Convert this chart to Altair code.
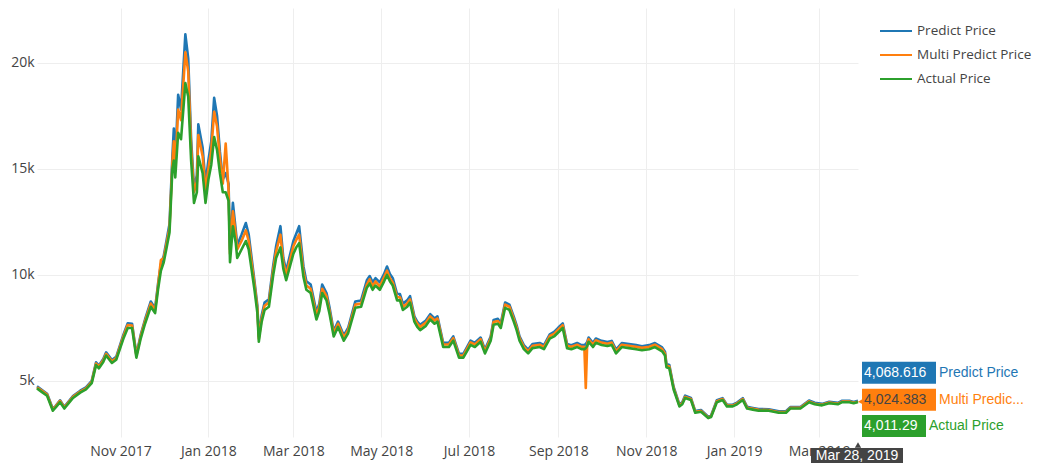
import altair as alt
import pandas as pd

dates = [
    "2017-09-04", "2017-09-07", "2017-09-11", "2017-09-15", "2017-09-17", "2017-09-20", "2017-09-23", "2017-09-29",
    "2017-10-04", "2017-10-08", "2017-10-12", "2017-10-15", "2017-10-17", "2017-10-20", "2017-10-22", "2017-10-26",
    "2017-10-29", "2017-11-03", "2017-11-06", "2017-11-09", "2017-11-12", "2017-11-15", "2017-11-18", "2017-11-22",
    "2017-11-25", "2017-11-27", "2017-11-29", "2017-12-01", "2017-12-03", "2017-12-05", "2017-12-07", "2017-12-08",
    "2017-12-09", "2017-12-11", "2017-12-13", "2017-12-16", "2017-12-18", "2017-12-20", "2017-12-22", "2017-12-24",
    "2017-12-25", "2017-12-28", "2017-12-30", "2018-01-01", "2018-01-03", "2018-01-05", "2018-01-07", "2018-01-09",
    "2018-01-11", "2018-01-13", "2018-01-15", "2018-01-16", "2018-01-18", "2018-01-20", "2018-01-21", "2018-01-24",
    "2018-01-27", "2018-01-29", "2018-02-02", "2018-02-04", "2018-02-05", "2018-02-07", "2018-02-09", "2018-02-12",
    "2018-02-15", "2018-02-17", "2018-02-20", "2018-02-22", "2018-02-24", "2018-03-01", "2018-03-03", "2018-03-05",
    "2018-03-08", "2018-03-10", "2018-03-13", "2018-03-17", "2018-03-19", "2018-03-21", "2018-03-24", "2018-03-26",
    "2018-03-29", "2018-04-01", "2018-04-05", "2018-04-08", "2018-04-13", "2018-04-17", "2018-04-21", "2018-04-23",
    "2018-04-25", "2018-04-27", "2018-04-30", "2018-05-03", "2018-05-05", "2018-05-07", "2018-05-09", "2018-05-12",
    "2018-05-14", "2018-05-16", "2018-05-19", "2018-05-21", "2018-05-24", "2018-05-26", "2018-05-28", "2018-06-01",
    "2018-06-04", "2018-06-07", "2018-06-09", "2018-06-13", "2018-06-17", "2018-06-20", "2018-06-24", "2018-06-27",
    "2018-07-02", "2018-07-05", "2018-07-09", "2018-07-12", "2018-07-16", "2018-07-18", "2018-07-21", "2018-07-23",
    "2018-07-26", "2018-07-29", "2018-08-01", "2018-08-03", "2018-08-05", "2018-08-08", "2018-08-11", "2018-08-14",
    "2018-08-19", "2018-08-22", "2018-08-26", "2018-08-29", "2018-09-01", "2018-09-04", "2018-09-07", "2018-09-10",
    "2018-09-14", "2018-09-17", "2018-09-19", "2018-09-20", "2018-09-21", "2018-09-22", "2018-09-25", "2018-09-27",
    "2018-10-01", "2018-10-05", "2018-10-08", "2018-10-11", "2018-10-15", "2018-10-20", "2018-10-25", "2018-10-29",
    "2018-11-03", "2018-11-07", "2018-11-12", "2018-11-14", "2018-11-15", "2018-11-17", "2018-11-20", "2018-11-24",
    "2018-11-26", "2018-11-28", "2018-12-02", "2018-12-05", "2018-12-09", "2018-12-14", "2018-12-16", "2018-12-20",
    "2018-12-24", "2018-12-27", "2018-12-31", "2019-01-03", "2019-01-07", "2019-01-10", "2019-01-14", "2019-01-18",
    "2019-01-25", "2019-02-01", "2019-02-06", "2019-02-09", "2019-02-16", "2019-02-22", "2019-02-26", "2019-03-03",
    "2019-03-08", "2019-03-14", "2019-03-17", "2019-03-22", "2019-03-25", "2019-03-28",
]

actual_price = [
    4650, 4500, 4300, 3600, 3750, 4000, 3700, 4200,
    4450, 4600, 4900, 5750, 5600, 5900, 6200, 5850,
    6000, 7000, 7500, 7500, 6100, 7000, 7700, 8500,
    8200, 9300, 10200, 10600, 11300, 12000, 15000, 15400,
    14600, 16700, 16400, 19050, 18400, 15400, 13400, 13900,
    15600, 14800, 13400, 14500, 15200, 16500, 15900, 14800,
    13900, 13900, 13500, 10600, 12300, 11500, 10800, 11200,
    11600, 11200, 9300, 8200, 6850, 7800, 8350, 8500,
    10000, 10800, 11300, 10300, 9750, 11000, 11300, 11500,
    9900, 9300, 9150, 7900, 8300, 9150, 8800, 8200,
    7100, 7550, 6900, 7250, 8450, 8500, 9400, 9600,
    9300, 9500, 9300, 9700, 10000, 9700, 9500, 8800,
    8800, 8350, 8500, 8700, 7800, 7550, 7400, 7600,
    7900, 7700, 7800, 6600, 6600, 6900, 6100, 6100,
    6700, 6600, 6850, 6300, 6900, 7650, 7700, 7500,
    8450, 8350, 7800, 7400, 6900, 6500, 6300, 6550,
    6600, 6500, 7000, 7100, 7300, 7500, 6550, 6500,
    6600, 6500, 6500, 6550, 6650, 6850, 6600, 6800,
    6700, 6650, 6700, 6300, 6600, 6550, 6500, 6450,
    6500, 6600, 6400, 6200, 5650, 5600, 4600, 3800,
    3900, 4200, 4100, 3500, 3550, 3250, 3300, 4000,
    4100, 3800, 3800, 3900, 4100, 3700, 3650, 3600,
    3600, 3500, 3500, 3700, 3700, 4000, 3900, 3850,
    3950, 3900, 4000, 4000, 3950, 4011.29,
]

predict_price = [
    4750, 4600, 4400, 3680, 3830, 4090, 3780, 4290,
    4540, 4700, 5010, 5880, 5730, 6040, 6350, 5990,
    6140, 7180, 7720, 7700, 6250, 7170, 7900, 8750,
    8420, 9560, 10500, 10900, 11650, 12400, 15600, 16900,
    15300, 18500, 17800, 21350, 20200, 16400, 14100, 14700,
    17100, 16000, 14300, 15400, 16300, 18350, 17500, 15800,
    14500, 14800, 14300, 11200, 13400, 12100, 11400, 11900,
    12450, 11900, 9700, 8550, 7100, 8100, 8700, 8850,
    10450, 11350, 12300, 10800, 10200, 11600, 11950, 12300,
    10400, 9700, 9550, 8250, 8650, 9550, 9150, 8500,
    7350, 7800, 7150, 7500, 8750, 8800, 9750, 9950,
    9650, 9850, 9650, 10050, 10400, 10050, 9850, 9100,
    9100, 8650, 8800, 9000, 8050, 7800, 7650, 7850,
    8150, 7950, 8050, 6800, 6800, 7100, 6280, 6280,
    6900, 6800, 7050, 6480, 7100, 7880, 7930, 7720,
    8700, 8600, 8030, 7620, 7100, 6690, 6480, 6740,
    6790, 6690, 7200, 7310, 7520, 7720, 6740, 6690,
    6790, 6690, 6690, 6740, 6840, 7050, 6790, 7000,
    6890, 6840, 6890, 6480, 6790, 6740, 6690, 6640,
    6690, 6790, 6580, 6380, 5800, 5750, 4720, 3900,
    4000, 4310, 4200, 3580, 3630, 3320, 3370, 4090,
    4190, 3880, 3880, 3980, 4190, 3780, 3730, 3680,
    3670, 3570, 3570, 3770, 3770, 4080, 3970, 3920,
    4020, 3970, 4070, 4070, 4010, 4068.616,
]

multi_predict_price = [
    4700, 4560, 4360, 3650, 3800, 4060, 3750, 4250,
    4500, 4650, 4960, 5820, 5680, 5980, 6280, 5930,
    6080, 7100, 7640, 7620, 6200, 7100, 7820, 8650,
    8350, 9450, 10700, 10800, 11500, 12200, 15300, 16300,
    15000, 17800, 17300, 20500, 19600, 16000, 13900, 14400,
    16600, 15600, 14000, 15000, 15900, 17700, 17000, 15500,
    14300, 16200, 14000, 11000, 13000, 11900, 11200, 11600,
    12100, 11600, 9550, 8400, 7000, 7950, 8550, 8700,
    10250, 11100, 11900, 10600, 10000, 11350, 11650, 11900,
    10150, 9500, 9350, 8100, 8500, 9350, 9000, 8350,
    7250, 7700, 7050, 7400, 8600, 8650, 9550, 9800,
    9450, 9700, 9450, 9900, 10200, 9850, 9650, 8950,
    8950, 8500, 8650, 8850, 7950, 7700, 7550, 7750,
    8050, 7850, 7950, 6720, 6720, 7020, 6200, 6200,
    6820, 6720, 6970, 6400, 7020, 7780, 7830, 7630,
    8600, 8500, 7930, 7530, 7020, 6610, 6400, 6660,
    6710, 6610, 7120, 7220, 7430, 7630, 6660, 6610,
    6710, 6610, 6610, 4670, 6760, 6970, 6710, 6920,
    6810, 6760, 6810, 6400, 6710, 6660, 6610, 6560,
    6610, 6710, 6500, 6300, 5730, 5680, 4660, 3850,
    3950, 4250, 4150, 3540, 3590, 3280, 3330, 4050,
    4150, 3840, 3840, 3940, 4150, 3740, 3690, 3640,
    3630, 3530, 3530, 3730, 3730, 4040, 3930, 3880,
    3980, 3930, 4030, 4030, 3970, 4024.383,
]

series_names = ["Predict Price", "Multi Predict Price", "Actual Price"]
series_colors = ["#1f77b4", "#ff7f0e", "#2ca02c"]
last_labels = ["4,068.616", "4,024.383", "4,011.29"]
short_names = ["Predict Price", "Multi Predic...", "Actual Price"]
hover_date_label = "Mar 28, 2019"

x_tick_values = [
    alt.DateTime(year=2017, month=11, date=1),
    alt.DateTime(year=2018, month=1, date=1),
    alt.DateTime(year=2018, month=3, date=1),
    alt.DateTime(year=2018, month=5, date=1),
    alt.DateTime(year=2018, month=7, date=1),
    alt.DateTime(year=2018, month=9, date=1),
    alt.DateTime(year=2018, month=11, date=1),
    alt.DateTime(year=2019, month=1, date=1),
    alt.DateTime(year=2019, month=3, date=1),
]
y_tick_values = [5000, 10000, 15000, 20000]

iso = [d + "T00:00:00" for d in dates]
rows = []
for name, vals in zip(series_names, [predict_price, multi_predict_price, actual_price]):
    for d, v in zip(iso, vals):
        rows.append({"date": d, "value": v, "series": name})
df = pd.DataFrame(rows)

last = pd.DataFrame({
    "date": [iso[-1]] * 3,
    "value": [predict_price[-1], multi_predict_price[-1], actual_price[-1]],
    "series": series_names,
    "label": last_labels,
    "name": short_names,
})

FONT = "Open Sans"
HFONT = "Liberation Sans"
W, H = 821, 429

x_enc = alt.X("date:T",
              scale=alt.Scale(nice=False, padding=0),
              axis=alt.Axis(values=x_tick_values, format="%b %Y", title=None, ticks=False,
                            domain=False, labelPadding=7, labelFontSize=14, labelFont=FONT,
                            labelColor="#444", gridColor="#eeeeee", labelFlush=False))
y_enc = alt.Y("value:Q",
              scale=alt.Scale(domain=[2358, 22590], nice=False, zero=False),
              axis=alt.Axis(values=y_tick_values, labelExpr="(datum.value/1000) + 'k'", title=None,
                            ticks=False, domain=False, labelPadding=3, labelFontSize=14, labelFont=FONT,
                            labelColor="#444", gridColor="#eeeeee"))

color_enc = alt.Color("series:N",
                      scale=alt.Scale(domain=series_names, range=series_colors),
                      legend=alt.Legend(title=None, orient="none", legendX=842, legendY=6,
                                        symbolType="stroke", symbolSize=1024, symbolStrokeWidth=2,
                                        labelFontSize=13.5, labelFont=FONT, labelColor="#444",
                                        rowPadding=-0.5, symbolOffset=0, labelOffset=4, labelLimit=200))

layers = []
for name in series_names:
    layers.append(
        alt.Chart(df).transform_filter(alt.datum.series == name)
        .mark_line(strokeWidth=2.6, strokeJoin="round")
        .encode(x=x_enc, y=y_enc, color=color_enc)
    )

box_specs = [
    (-39, -17, 78, "#ffffff"),
    (-13, 9, 78, "#444444"),
    (13, 35, 68, "#ffffff"),
]
for i, name in enumerate(series_names):
    y0, y1, wbox, tcol = box_specs[i]
    sub = last[last.series == name]
    layers.append(
        alt.Chart(sub).mark_rect(color=series_colors[i], xOffset=4, x2Offset=wbox,
                                 yOffset=y0, y2Offset=y1)
        .encode(x="date:T", x2="date", y="value:Q", y2="value")
    )
    layers.append(
        alt.Chart(sub).mark_text(align="left", baseline="middle", dx=6, dy=(y0 + y1) / 2,
                                 fontSize=14, font=HFONT, color=tcol)
        .encode(x="date:T", y="value:Q", text="label:N")
    )
    layers.append(
        alt.Chart(sub).mark_text(align="left", baseline="middle", dx=wbox + 3, dy=(y0 + y1) / 2,
                                 fontSize=14, font=HFONT, color=series_colors[i])
        .encode(x="date:T", y="value:Q", text="name:N")
    )

layers.append(
    alt.Chart(last.iloc[[1]]).mark_point(shape="triangle-left", filled=True, color=series_colors[1],
                                         size=45, opacity=1, xOffset=3)
    .encode(x="date:T", y="value:Q")
)

sub_last = last.iloc[[2]].assign(dlabel=hover_date_label)
layers.append(
    alt.Chart(sub_last).mark_rect(color="#444444", xOffset=-47, x2Offset=45)
    .encode(x="date:T", x2="date", y=alt.value(440), y2=alt.value(458))
)
layers.append(
    alt.Chart(sub_last).mark_point(shape="triangle-up", filled=True, color="#444444", size=40, opacity=1)
    .encode(x="date:T", y=alt.value(437))
)
layers.append(
    alt.Chart(sub_last).mark_text(align="center", baseline="middle", fontSize=14, font=HFONT,
                                  color="#ffffff", dx=-1)
    .encode(x="date:T", y=alt.value(448), text="dlabel:N")
)

chart = alt.layer(*layers).properties(
    width=W, height=H,
    background="white",
    autosize=alt.AutoSizeParams(type="none"),
    padding={"left": 29, "top": 0, "right": 176, "bottom": 26},
).configure_view(stroke="transparent", strokeWidth=0)

chart.save("out.html", embed_options={"renderer": "svg", "actions": False})
